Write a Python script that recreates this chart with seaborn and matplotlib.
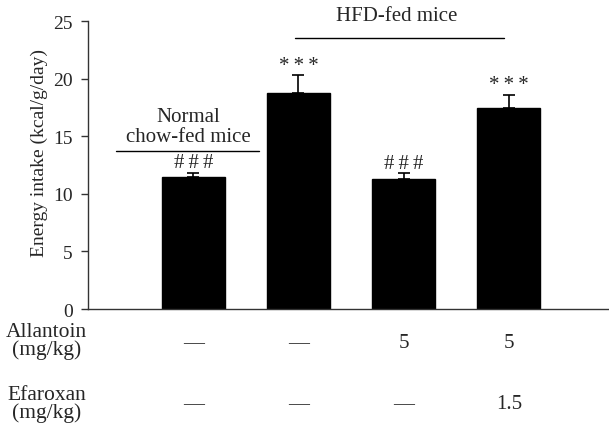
import matplotlib
matplotlib.use("Agg")
import matplotlib.pyplot as plt
import seaborn as sns
import numpy as np

groups = ["Normal", "HFD", "HFD+Allantoin", "HFD+Allantoin+Efaroxan"]
intake = [11.5, 18.75, 11.3, 17.5]
sem = [0.35, 1.55, 0.5, 1.1]
marks = ["#\u2009#\u2009#", "*\u2009*\u2009*", "#\u2009#\u2009#", "*\u2009*\u2009*"]
allantoin = ["—", "—", "5", "5"]
efaroxan = ["—", "—", "—", "1.5"]
yticks = [0, 5, 10, 15, 20, 25]

sns.set_style("ticks")
plt.rcParams["font.family"] = ["Liberation Serif", "DejaVu Serif"]

fig = plt.figure(figsize=(6.09, 4.27), dpi=100)
ax = fig.add_axes([0.1445, 0.274, 0.855, 0.674])

sns.barplot(x=groups, y=intake, color="black", width=0.6, saturation=1,
            edgecolor="black", ax=ax)
pos = np.arange(len(groups))
ax.errorbar(pos, intake, yerr=[np.zeros(len(sem)), sem], fmt="none",
            ecolor="black", elinewidth=1.2, capsize=4, capthick=1.2)

for x, v, e, m in zip(pos, intake, sem, marks):
    ax.text(x, v + e + 0.05, m, ha="center", va="bottom", fontsize=15)

# group brackets
ax.plot([-0.73, 0.63], [13.7, 13.7], color="black", lw=1, clip_on=False)
ax.text(-0.05, 14.2, "Normal\nchow-fed mice", ha="center", va="bottom",
        fontsize=15, linespacing=1.05)
ax.plot([0.97, 2.95], [23.5, 23.5], color="black", lw=1, clip_on=False)
ax.text(1.93, 24.65, "HFD-fed mice", ha="center", va="bottom", fontsize=15,
        clip_on=False)

ax.set_ylim(0, 25)
ax.set_xlim(-1.0, 3.95)
ax.set_yticks(yticks)
ax.tick_params(axis="y", labelsize=14, length=5, width=1, color="#333333",
               pad=6)
ax.tick_params(axis="x", length=0, labelbottom=False)
ax.set_ylabel("Energy intake (kcal/g/day)", fontsize=14)
ax.yaxis.set_label_coords(-0.077, 0.545)
ax.set_xlabel("")
sns.despine(ax=ax)
for s in ["left", "bottom"]:
    ax.spines[s].set_color("#333333")
    ax.spines[s].set_linewidth(1)

# dose table below the axis
for x, a, e in zip(pos, allantoin, efaroxan):
    ax.text(x, -2.9, a, ha="center", va="center", fontsize=15, clip_on=False)
    ax.text(x, -8.2, e, ha="center", va="center", fontsize=15, clip_on=False)
ax.text(-1.395, -2.75, "Allantoin\n(mg/kg)", ha="center", va="center",
        fontsize=15.5, linespacing=0.85, clip_on=False)
ax.text(-1.395, -8.2, "Efaroxan\n(mg/kg)", ha="center", va="center",
        fontsize=15.5, linespacing=0.85, clip_on=False)

fig.savefig("out.png", dpi=100)
